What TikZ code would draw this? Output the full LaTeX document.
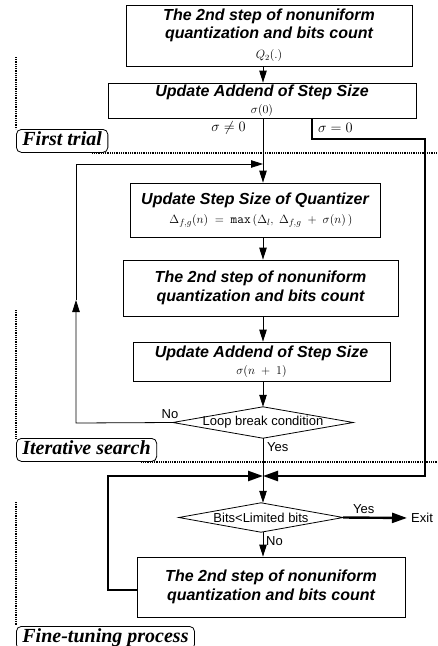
\documentclass[tikz,border=0pt]{standalone}
\usepackage{fontspec}
\setmainfont{Liberation Serif}
\setsansfont{Liberation Sans}
\usetikzlibrary{shapes.geometric,arrows.meta}
\newcommand\ttlfont{\sffamily\bfseries\itshape\fontsize{16}{18}\selectfont}
\newcommand\subfont{\rmfamily\mdseries\upshape\fontsize{12.5}{14}\selectfont}
\tikzset{
  proc/.style={draw, line width=0.8pt, inner sep=0pt, align=center, font=\ttlfont},
  dec/.style={rectangle, inner sep=0pt, font=\sffamily\fontsize{13}{15}\selectfont},
  decline/.style={line width=0.8pt, line join=miter},
  lab/.style={font=\sffamily\fontsize{13}{15}\selectfont, inner sep=0pt},
  mlab/.style={font=\rmfamily\fontsize{13.5}{15}\selectfont, inner sep=0pt},
  flow/.style={line width=0.8pt, -{Triangle[length=12pt,width=7.5pt]}},
  bigflow/.style={line width=2.4pt, line join=miter, -{Triangle[length=15pt,width=10pt]}},
  phase/.style={draw, rounded corners=5pt, line width=0.8pt, anchor=north west,
    inner xsep=6pt, inner ysep=2pt, text height=14pt, text depth=5pt,
    font=\rmfamily\bfseries\itshape\fontsize{20}{22}\selectfont},
  dotline/.style={line width=2pt, dash pattern=on 1pt off 0.8pt},
}
\begin{document}
\begin{tikzpicture}[x=1pt,y=-1pt]
\useasboundingbox (0,0) rectangle (437,646);
\clip (0,0) rectangle (437,646);
\coordinate (sp) at (263,0);
\coordinate (E) at (437,0);
% boxes
\node[proc, minimum width=286pt, minimum height=61pt] (b1) at (269,35.5)
  {The 2nd step of nonuniform\\quantization and bits count\\[2pt]{\rmfamily\mdseries\upshape\fontsize{11.5}{12}\selectfont$Q_2(.)$}};
\node[proc, minimum width=308pt, minimum height=35pt] (b2) at (262,100.5)
  {Update Addend of Step Size\\[-1pt]{\subfont$\sigma(0)$}};
\node[proc, minimum width=250pt, minimum height=54pt] (b3) at (255,210)
  {Update Step Size of Quantizer\\[1pt]{\rmfamily\mdseries\upshape\fontsize{13}{15}\selectfont\hspace{12pt}$\Delta_{f,g}(n)\;=\;\mathtt{max}\,(\Delta_l,\ \Delta_{f,g}\;+\;\sigma(n)\,)$}};
\node[proc, minimum width=275pt, minimum height=56pt] (b4) at (260.5,288)
  {The 2nd step of nonuniform\\[1pt]quantization and bits count};
\node[proc, minimum width=257pt, minimum height=39pt] (b5) at (261.5,361.5)
  {Update Addend of Step Size\\[-1pt]{\subfont$\sigma(n\;+\;1)$}};
\node[dec, minimum width=180pt, minimum height=31pt] (d1) at (263,422.5) {Loop break condition};
\draw[decline] (d1.north) -- (d1.east) -- (d1.south) -- (d1.west) -- cycle;
\node[dec, minimum width=164pt, minimum height=29pt] (d2) at (261,517.5) {Bits<Limited bits};
\draw[decline] (d2.north) -- (d2.east) -- (d2.south) -- (d2.west) -- cycle;
\node[proc, minimum width=268pt, minimum height=60pt] (b6) at (271,587)
  {The 2nd step of nonuniform\\[1pt]quantization and bits count};
\node[lab, anchor=west] (exit) at (411,518) {Exit};
% phase labels
\node[phase] (ph1) at (16,129) {First trial\hspace{18pt}};
\node[phase] (ph2) at (16,438) {Iterative search\hspace{14pt}};
\node[phase] (ph3) at (16,626) {Fine-tuning process\hspace{14pt}};
\draw[dotline] (16,57) -- (ph1.north west);
\draw[dotline] ([xshift=-16pt]ph1.south east) -- (ph1.south -| E);
\draw[dotline] (16,310) -- (ph2.north west);
\draw[dotline] ([xshift=-16pt]ph2.south east) -- (ph2.south -| E);
\draw[dotline] (16,502) -- (ph3.north west);
% coordinates
\coordinate (j) at (263,476);
\coordinate (lA) at (76,423);
\coordinate (lm) at (76,300);
\coordinate (lB) at (76,164);
\coordinate (r1) at (312,139);
\coordinate (r2) at (425,139);
\coordinate (r3) at (425,476);
\coordinate (l1) at (108,590);
\coordinate (l2) at (108,476);
% thin flow
\draw[flow] (b1.south -| sp) -- (b2.north -| sp);
\draw[flow] (b2.south -| sp) -- (b3.north -| sp);
\draw[flow] (b3.south -| sp) -- (b4.north -| sp);
\draw[flow] (b4.south -| sp) -- (b5.north -| sp);
\draw[flow] (b5.south -| sp) -- (d1.north);
\draw[flow] (d1.south) -- (d2.north -| sp);
\draw[flow] (d2.south -| sp) -- (b6.north -| sp);
\draw[flow] (d1.west) -- (lA) -- (lm);
\draw[flow] (lm) -- (lB) -- (lB -| sp);
% thick flow
\draw[bigflow] (b2.south -| r1) -- (r1) -- (r2) -- (r3) -- (j);
\draw[bigflow] (b6.west |- l1) -- (l1) -- (l2) -- (j);
\draw[bigflow, shorten >=4pt] (d2.east) -- (exit.west);
% labels
\node[mlab, anchor=east] (ne) at (246,128) {$\sigma \neq 0$};
\node[mlab, anchor=west] (eq) at (318,128) {$\sigma = 0$};
\node[lab] (no1) at (170,414) {No};
\node[lab, anchor=west] (yes1) at (267,447) {Yes};
\node[lab, anchor=west] (yes2) at (353,509) {Yes};
\node[lab, anchor=west] (no2) at (266,541) {No};
\end{tikzpicture}
\end{document}
